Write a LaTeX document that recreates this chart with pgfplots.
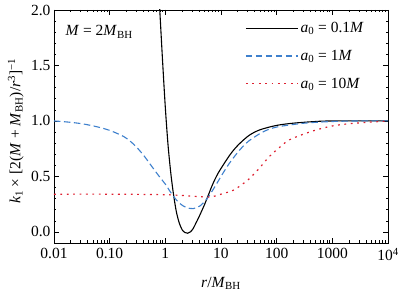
\documentclass[border=0pt]{standalone}
\usepackage{fontspec}
\setmainfont{Liberation Serif}
\usepackage{pgfplots}
\pgfplotsset{compat=1.18}
\definecolor{cblue}{RGB}{62,128,205}
\definecolor{cred}{RGB}{222,32,48}
\newcommand{\fs}{\fontsize{15.5}{18}\selectfont}
\begin{document}
\begin{tikzpicture}[font=\fs]
\begin{axis}[
  name=ax,
  scale only axis,
  width=334pt, height=233pt,
  xmode=log,
  xmin=0.01, xmax=10000,
  ymin=-0.1, ymax=2.0,
  xtick={0.01,0.1,1,10,100,1000,10000},
  xticklabels={0.01,0.10,1,10,100,1000,10\textsuperscript{4}},
  ytick={0,0.5,1,1.5,2},
  yticklabels={0.0,0.5,1.0,1.5,2.0},
  minor y tick num=4,
  tick align=inside,
  major tick length=5pt,
  minor tick length=2.5pt,
  tick style={black, line width=0.6pt},
  axis line style={line width=0.9pt},
  /pgf/number format/assume math mode=true,
  tick label style={font=\fs},
  xticklabel style={yshift=-2pt},
  xlabel={\textit{r}/\textit{M}\textsubscript{BH}},
  xlabel style={at={(axis description cs:0.5,-0.172)}, anchor=center},
  ylabel={\textit{k}\textsubscript{1} × [2(\textit{M} + \textit{M}\textsubscript{BH})/\textit{r}\textsuperscript{3}]\textsuperscript{−1}},
  ylabel style={at={(axis description cs:-0.08,0.48)}, anchor=south, rotate=0},
  legend style={draw=none, fill=none, at={(rel axis cs:0.94,0.965)}, anchor=north east,
    row sep=12pt, font=\fs, inner sep=2pt, nodes={inner xsep=2pt}},
  legend cell align=left,
  legend image code/.code={\draw[#1] (0pt,0pt) -- (52pt,0pt);},
  clip=true,
]
\addplot[black, line width=1.1pt, smooth] coordinates {
(0.70,2.45) (0.79,2.02) (0.89,1.55) (1.0,1.12) (1.12,0.78) (1.26,0.52) (1.41,0.33)
(1.58,0.18) (1.78,0.08) (2.0,0.02) (2.24,-0.005) (2.51,-0.012) (2.82,0.0) (3.16,0.03)
(3.55,0.08) (3.98,0.13) (5.0,0.24) (5.8,0.32) (7.1,0.43) (8.9,0.53) (12.6,0.65)
(15.8,0.72) (21,0.79) (32,0.87) (50,0.92) (100,0.96) (200,0.98) (500,0.995) (1000,1.0) (10000,1.0)
};
\addlegendentry{\textit{a}\textsubscript{0} = 0.1\textit{M}}
\addplot[cblue, line width=1.1pt, dash pattern=on 6.5pt off 3.5pt, smooth] coordinates {
(0.01,1.0) (0.0178,0.99) (0.0316,0.975) (0.0562,0.95) (0.1,0.915) (0.178,0.86) (0.237,0.815) (0.316,0.755) (0.422,0.68) (0.562,0.595)
(0.750,0.51) (1.0,0.43) (1.334,0.335) (1.778,0.26) (2.371,0.22) (3.162,0.21) (4.217,0.235)
(5.623,0.30) (7.499,0.395) (10,0.50) (13.34,0.60) (17.78,0.685) (23.71,0.76) (31.62,0.82)
(56.23,0.90) (100,0.945) (316.2,0.98) (1000,0.995) (3162,1.0) (10000,1.0)
};
\addlegendentry{\textit{a}\textsubscript{0} = 1\textit{M}}
\addplot[cred, line width=1.2pt, dash pattern=on 1.8pt off 4.6pt, smooth] coordinates {
(0.01,0.34) (0.1,0.34) (1,0.335) (2.51,0.325) (5.01,0.315) (7.08,0.318) (10.7,0.345)
(15.8,0.37) (21.4,0.41) (32.4,0.48) (49,0.575) (74.1,0.68) (112,0.76) (170,0.83)
(389,0.90) (891,0.95) (1995,0.975) (5012,0.99) (10000,1.0)
};
\addlegendentry{\textit{a}\textsubscript{0} = 10\textit{M}}
\node[anchor=west] at (rel axis cs:0.024,0.906) {\textit{M} = 2\textit{M}\textsubscript{BH}};
\end{axis}
\pgfresetboundingbox
\path[use as bounding box] ([shift={(-54pt,-55pt)}]ax.south west) rectangle ([shift={(11pt,10pt)}]ax.north east);
\end{tikzpicture}
\end{document}
